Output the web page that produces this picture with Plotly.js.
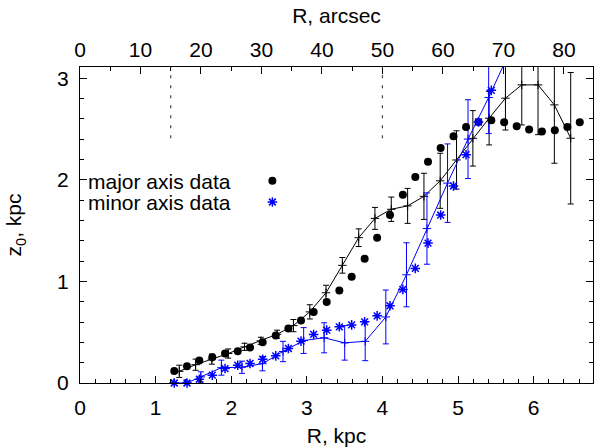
<!DOCTYPE html>
<html>
<head>
<meta charset="utf-8">
<script src="https://cdn.plot.ly/plotly-3.0.1.min.js"></script>
<style>html,body{margin:0;padding:0;background:#fff;}#chart{width:594px;height:447px;}</style>
</head>
<body>
<div id="chart"></div>
<script>
// Major axis data (black dots)
const majorDataR = [1.247,1.415,1.578,1.75,1.918,2.086,2.249,2.416,2.589,2.756,2.923,3.09,3.263,3.43,3.593,3.765,3.93,4.1,4.27,4.435,4.603,4.77,4.94,5.106,5.27,5.44,5.61,5.776,5.94,6.11,6.28,6.446,6.61];
const majorDataZ = [0.119,0.166,0.222,0.254,0.29,0.313,0.35,0.402,0.468,0.537,0.616,0.698,0.796,0.911,1.045,1.223,1.43,1.653,1.853,2.028,2.178,2.313,2.428,2.52,2.569,2.586,2.566,2.527,2.494,2.474,2.488,2.52,2.566];

// Minor axis data (blue asterisks)
const minorDataR = [1.247,1.415,1.578,1.75,1.918,2.086,2.249,2.416,2.589,2.756,2.923,3.09,3.263,3.43,3.593,3.765,3.93,4.1,4.27,4.435,4.603,4.77,4.94,5.106,5.27,5.44];
const minorDataZ = [0.0,0.0,0.037,0.077,0.142,0.175,0.192,0.234,0.267,0.34,0.412,0.478,0.52,0.553,0.572,0.602,0.661,0.76,0.921,1.128,1.377,1.653,1.939,2.247,2.569,2.88];

// Major axis curve with errors (black line)
const majorFitR = [1.313,1.529,1.744,1.960,2.176,2.392,2.607,2.823,3.039,3.254,3.470,3.686,3.901,4.117,4.333,4.549,4.764,4.980,5.196,5.411,5.627,5.843,6.058,6.274,6.490];
const majorFitZ = [0.115,0.18,0.235,0.29,0.356,0.415,0.48,0.565,0.70,0.888,1.158,1.43,1.62,1.71,1.743,1.837,1.99,2.195,2.408,2.606,2.803,2.934,2.934,2.737,2.409];
const majorFitErr = [0.06,0.055,0.05,0.045,0.035,0.035,0.04,0.06,0.07,0.074,0.077,0.087,0.108,0.12,0.172,0.227,0.271,0.287,0.273,0.263,0.313,0.394,0.49,0.574,0.647];

// Minor axis curve with errors (blue line)
const minorFitR = [1.24,1.41,1.598,1.870,2.142,2.413,2.685,2.958,3.229,3.501,3.772,4.045,4.318,4.589,4.861,5.132,5.405,5.677];
const minorFitZ = [0.0,0.0,0.06,0.151,0.155,0.19,0.31,0.418,0.445,0.395,0.41,0.65,1.065,1.52,1.967,2.40,2.81,3.25];
const minorFitErr = [0.01,0.015,0.05,0.074,0.06,0.07,0.1,0.127,0.148,0.17,0.19,0.265,0.315,0.351,0.386,0.388,0.355,0.1];

// Axis labels and ranges
const xTitle = 'R, kpc';
const x2Title = 'R, arcsec';
const yTitle = 'z<sub>0</sub>, kpc';
const legendLabels = ['major axis data', 'minor axis data'];
const arcsecPerKpc = 12.5;
const xMax = 6.785;
const yMax = 3.11;
const markerLinesArcsec = [15, 50];

const FONT = 'Liberation Sans, Arial, Helvetica, sans-serif';
const FS = 21;
const BLUE = '#0000ff';

const traces = [
  {
    x: majorFitR, y: majorFitZ, type: 'scatter', mode: 'lines+markers',
    line: {color: '#000', width: 1},
    marker: {symbol: 'cross-thin-open', size: 6, color: '#000', line: {color: '#000', width: 1}},
    error_y: {type: 'data', array: majorFitErr, visible: true, color: '#000', thickness: 1, width: 3},
    showlegend: false, hoverinfo: 'skip'
  },
  {
    x: minorFitR, y: minorFitZ, type: 'scatter', mode: 'lines+markers',
    line: {color: BLUE, width: 1},
    marker: {symbol: 'cross-thin-open', size: 6, color: BLUE, line: {color: BLUE, width: 1}},
    error_y: {type: 'data', array: minorFitErr, visible: true, color: BLUE, thickness: 1, width: 3},
    showlegend: false, hoverinfo: 'skip'
  },
  {
    x: majorDataR, y: majorDataZ, type: 'scatter', mode: 'markers',
    marker: {symbol: 'circle', size: 8, color: '#000'},
    cliponaxis: false, name: ' ', legend: 'legend', showlegend: true, hoverinfo: 'skip'
  },
  {
    x: minorDataR, y: minorDataZ, type: 'scatter', mode: 'markers',
    marker: {symbol: 'asterisk-open', size: 8, color: BLUE, line: {color: BLUE, width: 1.5}},
    cliponaxis: false, name: ' ', legend: 'legend2', showlegend: true, hoverinfo: 'skip'
  },
  {
    x: [0, xMax * arcsecPerKpc], y: [null, null], xaxis: 'x2', yaxis: 'y',
    type: 'scatter', mode: 'markers', showlegend: false, hoverinfo: 'skip'
  }
];

const axisCommon = {
  showgrid: false, zeroline: false, showline: true, linecolor: '#000', linewidth: 1.2,
  ticks: 'inside', ticklen: 7, tickcolor: '#000', tickwidth: 1,
  tickfont: {family: FONT, size: FS, color: '#000'}
};

const shapes = markerLinesArcsec.map(a => ({
  type: 'line', xref: 'x2', yref: 'y', x0: a, x1: a, y0: 2.41, y1: yMax,
  line: {color: '#444', width: 1.2, dash: '3px,7px'}
}));

const legendCommon = {
  bgcolor: 'rgba(0,0,0,0)', borderwidth: 0, itemwidth: 30,
  font: {family: FONT, size: 15, color: '#000'},
  xanchor: 'left', yanchor: 'middle', itemclick: false, itemdoubleclick: false
};

const layout = {
  width: 594, height: 447,
  margin: {l: 80, r: 1, t: 67, b: 64},
  paper_bgcolor: '#fff', plot_bgcolor: '#fff',
  font: {family: FONT, size: FS, color: '#000'},
  xaxis: Object.assign({}, axisCommon, {
    range: [0, xMax], dtick: 1, tick0: 0, mirror: true, ticklabelstandoff: 6,
    minor: {dtick: 0.2, ticks: 'inside', ticklen: 4, tickcolor: '#000'},
    title: {text: xTitle, font: {family: FONT, size: FS, color: '#000'}, standoff: 9}
  }),
  xaxis2: Object.assign({}, axisCommon, {
    range: [0, xMax * arcsecPerKpc], dtick: 10, tick0: 0, side: 'top', overlaying: 'x', anchor: 'y',
    minor: {dtick: 5, ticks: 'inside', ticklen: 4, tickcolor: '#000'},
    title: {text: x2Title, font: {family: FONT, size: FS, color: '#000'}, standoff: 9}
  }),
  yaxis: Object.assign({}, axisCommon, {
    range: [0, yMax], dtick: 1, tick0: 0, mirror: 'ticks', ticklabelstandoff: 6,
    minor: {dtick: 0.2, ticks: 'inside', ticklen: 4, tickcolor: '#000'},
    title: {text: yTitle, font: {family: FONT, size: FS, color: '#000'}, standoff: 29}
  }),
  shapes: shapes,
  legend: Object.assign({}, legendCommon, {x: 0.336, y: 0.639}),
  legend2: Object.assign({}, legendCommon, {x: 0.336, y: 0.572}),
  annotations: [
    {text: legendLabels[0], xref: 'paper', yref: 'paper', x: 0.298, y: 0.639, xanchor: 'right', yanchor: 'middle', showarrow: false, font: {family: FONT, size: FS, color: '#000'}},
    {text: legendLabels[1], xref: 'paper', yref: 'paper', x: 0.298, y: 0.572, xanchor: 'right', yanchor: 'middle', showarrow: false, font: {family: FONT, size: FS, color: '#000'}}
  ],
  showlegend: true
};

Plotly.newPlot('chart', traces, layout, {staticPlot: true, displayModeBar: false});
</script>
</body>
</html>
